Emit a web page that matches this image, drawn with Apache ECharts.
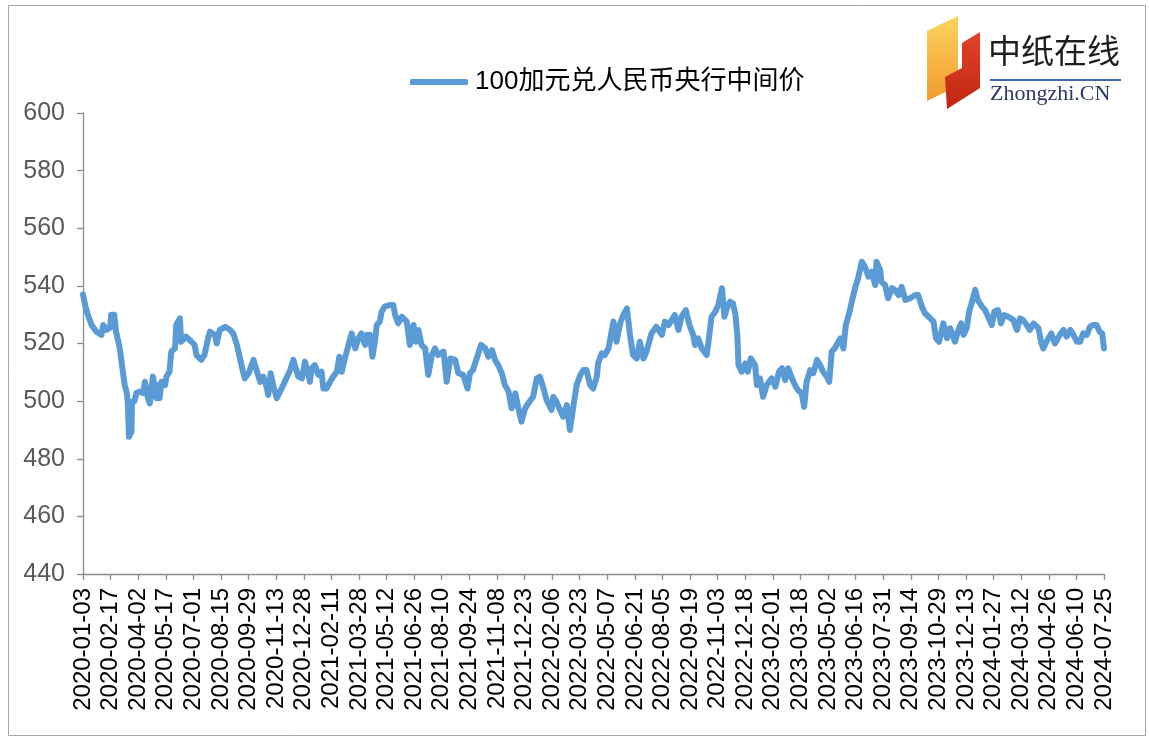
<!DOCTYPE html>
<html>
<head>
<meta charset="utf-8">
<script src="https://cdn.jsdelivr.net/npm/echarts@6/dist/echarts.min.js"></script>
<style>
html,body{margin:0;padding:0;background:#fff;}
#chart{width:1149px;height:738px;}
</style>
</head>
<body>
<div id="chart"></div>
<script>
// x tick labels (every 45 calendar days)
var tickLabels = ["2020-01-03","2020-02-17","2020-04-02","2020-05-17","2020-07-01","2020-08-15","2020-09-29","2020-11-13","2020-12-28","2021-02-11","2021-03-28","2021-05-12","2021-06-26","2021-08-10","2021-09-24","2021-11-08","2021-12-23","2022-02-06","2022-03-23","2022-05-07","2022-06-21","2022-08-05","2022-09-19","2022-11-03","2022-12-18","2023-02-01","2023-03-18","2023-05-02","2023-06-16","2023-07-31","2023-09-14","2023-10-29","2023-12-13","2024-01-27","2024-03-12","2024-04-26","2024-06-10","2024-07-25"];
var seriesName = "100加元兑人民币央行中间价";
// day offset from 2020-01-03
var days = [0,4,8,14,22,30,33,38,44,46,51,54,60,65,68,71,73,75,79,80,84,87,92,98,101,106,109,114,120,122,125,128,134,136,141,144,150,152,158,160,168,177,182,185,193,198,204,
207,215,218,223,232,240,245,251,256,261,264,270,278,283,289,294,300,302,306,310,316,318,324,329,338,343,346,351,357,362,367,370,373,378,384,389,392,397,403,408,
414,418,422,427,433,438,444,449,454,460,463,468,472,476,479,484,487,492,501,506,509,514,520,528,533,539,543,547,552,558,563,569,574,579,588,593,599,607,612,
615,620,627,631,636,642,649,656,661,667,672,677,683,688,694,699,705,710,715,721,726,734,740,745,751,756,764,767,772,778,783,789,791,794,800,805,811,816,
821,827,832,838,840,846,851,857,865,870,876,881,887,892,897,903,908,914,919,927,935,944,949,955,960,965,971,976,983,989,995,998,1003,1009,1017,
1020,1025,1031,1036,1042,1046,1050,1055,1060,1064,1067,1069,1074,1080,1084,1089,1096,1099,1104,1109,1115,1123,1129,1135,1140,1145,1150,1156,1161,1166,1172,1176,1180,1186,1191,1197,1202,1207,1213,1217,1221,1226,
1229,1235,1240,1244,1250,1255,1259,1264,1270,1275,1281,1286,1292,1294,1300,1302,1308,1313,1319,1324,1330,1335,1341,1349,1357,1362,1368,1373,1379,1387,1391,1396,1403,1409,1414,1422,1427,
1432,1436,1441,1445,1449,1455,1459,1466,1471,1476,1482,1486,1492,1497,1502,1509,1517,1523,1528,1533,1539,1544,1550,1558,1563,1566,1571,1579,1585,1593,1599,1604,1610,1615,1621,1626,1631,1637,1642,1647,1653,1658,1662,1665];
var values = [537,532.8,529.9,526.4,524.1,523,526.4,524.7,525.4,530,530,524,518.3,510.2,505.6,503.3,499.8,487.6,489.4,499.8,500,502.8,503.3,502.8,506.7,501,499.2,508.5,501,505.6,501,506.7,505.6,508.5,510.2,517.2,518.3,526.4,528.7,520.6,522.4,520.6,519.5,516,514.3,516,521.8,
524.1,523,520,524.7,525.8,524.7,523.5,519.5,514.8,510.2,507.9,509.7,514.3,510.8,506.7,508.5,504.4,502.1,509.7,505.6,501,500.4,504.4,506.7,510.8,514.3,513.7,508.5,507.9,513.7,509.7,506.7,511.4,512.5,509.1,510.2,504.4,504.4,506.7,508.5,
510.2,515.4,510.2,514.8,519.5,523.5,518.3,521.8,523.5,519.5,523,523,515.4,520.6,526.4,527.6,531,532.8,533.4,533.4,529.9,527,529.3,527.6,519.5,526.4,520.6,524.7,519.5,518.3,509.1,516,518.3,516,517.2,506.7,514.8,514.3,509.7,
509.7,509.1,504.4,509.7,510.8,514.8,519.5,518.3,515.4,517.7,514.3,512.5,509.7,505.6,503.3,497.5,502.7,497.5,492.9,497.5,499.2,501.5,507.9,508.5,504.4,500.4,496.9,501.5,499.8,496.9,494.6,498.6,498,490,498.6,505.6,509.1,510.8,
510.8,505.6,504.4,508.5,513.1,516.6,516,518.3,527.6,520.6,527,529.9,532.2,523,516,514.8,520.6,514.8,517.2,523.5,525.8,523,527.6,526.4,528.2,529.9,524.7,529.3,531.6,526.4,523,519.5,521.8,518.3,516,
520.6,529.3,531,533.4,539.2,529.3,532.2,534.5,533.9,529.9,523,512.5,510.2,513.1,510.2,514.8,512.5,505.6,507.9,501.5,505.6,507.9,505,510.2,511.4,507.3,511.4,507.9,505.6,503.8,502.7,498,506.7,510.8,509.7,514.3,512.5,510.2,508.5,506.7,517.2,518.3,
519.5,521.8,518.3,526.4,531,535.7,539.2,542.6,548.4,546.7,543.2,544.9,540.3,548.4,545.5,541.4,540.3,535.7,539.2,538.6,536.8,539.7,535.1,535.7,536.8,536.8,532.8,530.5,529.3,527.6,521.8,520.6,527,521.8,525.3,520.6,524.4,
527,523,525.3,531,533.9,538.6,535.1,532.8,531.6,529.3,526.4,531,531.6,527,529.9,529.3,528.2,524.7,528.7,528.2,526.4,524.7,527,525.3,520,518.3,520.6,523.5,520,523,524.7,522.4,524.7,523,520.6,520.6,523.5,523,525.8,526.4,526.4,524.1,523.5,518.3];

var yMin = 440, yMax = 600, yStep = 20;
var xStep = 45, xMax = xStep * (tickLabels.length - 1);

var chart = echarts.init(document.getElementById('chart'), null, {renderer: 'canvas'});
var data = days.map(function (d, i) { return [d, values[i]]; });

chart.setOption({
  backgroundColor: '#ffffff',
  animation: false,
  textStyle: {fontFamily: 'Liberation Sans, Arial, sans-serif'},
  legend: {
    show: true,
    left: 405,
    top: 64,
    icon: 'roundRect',
    itemWidth: 58,
    itemHeight: 6,
    itemGap: 10,
    data: [seriesName],
    itemStyle: {color: '#5B9BD5'},
    textStyle: {fontSize: 26, color: '#000', fontFamily: 'Liberation Sans, "Noto Sans CJK SC", sans-serif', padding: [0, 0, 0, 2]}
  },
  grid: {left: 83, right: 45, top: 113, bottom: 164, containLabel: false},
  xAxis: {
    type: 'value',
    min: 0,
    max: xMax,
    interval: xStep,
    axisLine: {show: true, lineStyle: {color: '#8c8c8c', width: 1.3}},
    axisTick: {show: true, length: 6, lineStyle: {color: '#8c8c8c', width: 1.3}},
    splitLine: {show: false},
    axisLabel: {
      rotate: 90,
      margin: 14,
      fontSize: 24,
      color: '#000',
      fontFamily: 'Liberation Sans, Arial, sans-serif',
      showMinLabel: true,
      showMaxLabel: true,
      formatter: function (v) { return tickLabels[Math.round(v / xStep)] || ''; }
    }
  },
  yAxis: {
    type: 'value',
    min: yMin,
    max: yMax,
    interval: yStep,
    axisLine: {show: true, lineStyle: {color: '#8c8c8c', width: 1.3}},
    axisTick: {show: true, length: 6, lineStyle: {color: '#8c8c8c', width: 1.3}},
    splitLine: {show: false},
    axisLabel: {fontSize: 25, color: '#595959', margin: 18, fontFamily: 'Liberation Sans, Arial, sans-serif'}
  },
  series: [{
    name: seriesName,
    type: 'line',
    data: data,
    showSymbol: false,
    symbol: 'none',
    smooth: false,
    lineStyle: {color: '#5B9BD5', width: 6, join: 'round', cap: 'round'},
    itemStyle: {color: '#5B9BD5'}
  }],
  graphic: [
    {type: 'rect', shape: {x: 8.5, y: 5.5, width: 1137, height: 730}, style: {fill: 'none', stroke: '#a6a6a6', lineWidth: 1}, silent: true, z: -1},
    {type: 'polygon', shape: {points: [[927, 31], [958, 16], [958, 86], [927, 101]]},
      style: {fill: new echarts.graphic.LinearGradient(0, 0, 0, 1, [{offset: 0, color: '#FCD45E'}, {offset: 1, color: '#F29A2E'}])}, z: 10},
    {type: 'polygon', shape: {points: [[962, 43], [980, 32], [980, 88], [947, 109], [945, 77], [962, 68]]},
      style: {fill: new echarts.graphic.LinearGradient(0, 0, 0, 1, [{offset: 0, color: '#E0452B'}, {offset: 1, color: '#C0250F'}])}, z: 11},
    {type: 'text', left: 988, top: 34, style: {text: '中纸在线', font: '33px "Noto Sans CJK SC", sans-serif', fill: '#1e1e1e'}, z: 10},
    {type: 'line', shape: {x1: 990, y1: 80, x2: 1121, y2: 80}, style: {stroke: '#4068AE', lineWidth: 2}, z: 10},
    {type: 'text', left: 990, top: 83, style: {text: 'Zhongzhi.CN', font: '22px "Liberation Serif", "DejaVu Serif", serif', fill: '#2B3A67'}, z: 10}
  ]
});
</script>
</body>
</html>
